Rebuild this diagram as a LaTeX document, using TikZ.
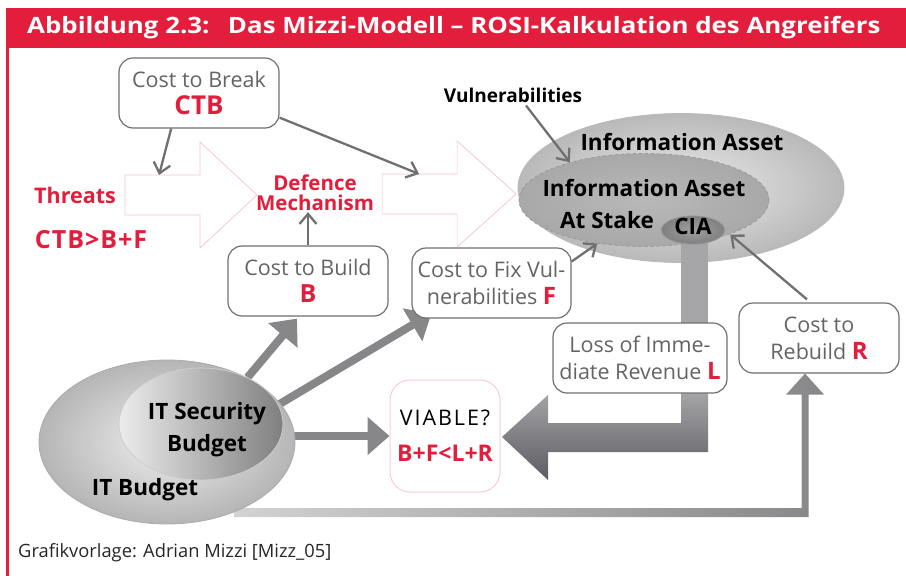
\documentclass[tikz,border=0pt]{standalone}
\usepackage{graphicx}
\usepackage{fontspec}
\setmainfont{Open Sans}
\usetikzlibrary{positioning,arrows.meta,calc,shapes.geometric}
\definecolor{mizred}{RGB}{226,30,60}
\definecolor{boxgrey}{RGB}{112,112,115}
\definecolor{txtgrey}{RGB}{100,100,103}
\definecolor{fatgrey}{RGB}{135,135,138}
\definecolor{pillarc}{RGB}{166,166,169}
\definecolor{darkarr}{RGB}{92,92,97}
\definecolor{pipec}{RGB}{246,196,206}
\pgfdeclarelayer{back}
\pgfsetlayers{back,main}
\newcommand{\fs}[2]{\fontsize{#1}{#2}\selectfont}
\newcommand{\rb}[1]{{\bfseries\color{mizred}#1}}

\begin{document}
\begin{tikzpicture}[
  x=1pt, y=-1pt,
  cost/.style={rectangle, rounded corners=14pt, draw=boxgrey, line width=1.2pt,
    fill=white, align=center, text=txtgrey, minimum width=#1,
    minimum height=70pt, inner sep=0pt, font=\fs{21.5}{27}},
  cost/.default=160pt,
  redlbl/.style={text=mizred, font=\bfseries\fs{21.5}{21}, align=center, inner sep=1pt},
  blklbl/.style={font=\bfseries\fs{22.5}{32}, align=center, inner sep=0pt},
  thinarr/.style={draw=boxgrey, line width=2.3pt, -{Straight Barb[length=10pt,width=17pt]}},
  fatarr/.style={draw=fatgrey, line width=8pt, -{Triangle[length=22pt,width=37pt]}},
  pipe/.style={draw=pipec, line width=0.7pt, fill=white},
  blob/.style={ellipse, inner sep=0pt, line width=0.8pt},
]
\useasboundingbox (0,0) rectangle (906,576);

% ---- frame and title ----
\fill[mizred] (6,8) rectangle (906,48);
\fill[mizred] (6,48) rectangle (9,576);
\node[anchor=west, text=white, font=\bfseries\fs{22.5}{22}, inner sep=0pt] (title) at (27,28)
  {\scalebox{1.15}[1]{Abbildung 2.3:\hspace{16pt}Das Mizzi-Modell -- ROSI-Kalkulation des Angreifers}};

% ---- left part: threats and defence ----
\node[cost] (ctb) at (199,93) {Cost to Break\\{\fs{26}{27}\rb{CTB}}};
\node[redlbl] (threats) at (75,195) {Threats};
\node[redlbl, font=\bfseries\fs{25}{25}\addfontfeature{LetterSpace=4}] (cond) at (91,240) {CTB>B+F};
\node[redlbl, font=\bfseries\fs{20.5}{20}] (defence) at (315,193) {Defence\\Mechanism};
\node[cost] (build) at (308,281) {Cost to Build\\{\fs{25}{29}\rb{B}}};
\node[cost=159pt] (fix) at (491.5,283) {Cost to Fix Vul-\\nerabilities {\fs{24}{27}\rb{F}}};
\node[font=\bfseries\fs{19}{19}, inner sep=1pt] (vul) at (513,95) {Vulnerabilities};

% ---- viable check ----
\node[rectangle, rounded corners=20pt, draw=mizred!22, line width=1pt, fill=white,
  minimum width=110pt, minimum height=112pt, align=center, inner sep=0pt,
  font=\fs{20}{36}] (viable) at (445,436)
  {{\fs{21.5}{36}\addfontfeature{LetterSpace=9}VIABLE?}\\{\fs{23}{36}\rb{B+F<L+R}}};
\node[cost] (rebuild) at (819,338) {Cost to\\Rebuild {\fs{24}{27}\rb{R}}};

% ---- information asset ----
\node[blob, draw=gray!55, inner color=gray!15, outer color=gray!55,
  minimum width=326pt, minimum height=149pt] (asset) at (681,188) {};
\node[blklbl] (assetlbl) at (682,142) {Information Asset};
\node[blob, draw=gray!80, dashed, inner color=gray!55, outer color=gray!68,
  minimum width=250pt, minimum height=93pt] (stake) at (644,200) {};
\node[blklbl] (stakelbl) at (644,188) {Information Asset};
\node[blklbl] (stakelbl2) at (607,220) {At Stake};

% loss of revenue: pillar from CIA, bent into the viable box
\coordinate (ciac) at (693,230);
\begin{scope}[shift={(ciac |- viable.east)}]
  \fill[pillarc] (-12,-200) rectangle (15,-44);
  \shade[top color=pillarc, bottom color=darkarr]
    (-12,-45) -- (15,-45) -- (15,16) -- (-145,16) -- (-145,44) -- (-191,1)
    -- (-145,-41) -- (-145,-13) -- (-12,-13) -- cycle;
\end{scope}
\node[blob, draw=gray!85, inner color=gray!75, outer color=gray!100,
  minimum width=63pt, minimum height=28pt] (cia) at (ciac) {};
\node[blklbl] (cialbl) at (693,226) {CIA};
\node[cost=174pt] (loss) at (640,358) {Loss of Imme-\\diate Revenue {\fs{24}{27}\rb{L}}};

% ---- budgets ----
\node[blob, draw=gray!65, inner color=gray!12, outer color=gray!58,
  minimum width=256pt, minimum height=164pt] (itbudget) at (167,442) {};
\node[blob, draw=gray!40, left color=gray!15, right color=gray!100,
  minimum width=164pt, minimum height=112pt] (itsec) at (201,424) {};
\node[blklbl] (itseclbl) at (207,430) {IT Security\\Budget};
\node[blklbl] (itbudgetlbl) at (145,490) {IT Budget};

% ---- block arrows ----
\draw[pipe] ($(threats.east)+(8,-20)$) -- ++(34,0) coordinate (hit1) -- ++(41,0)
  -- ++(0,-33) -- ++(57,53) -- ++(-57,53) -- ++(0,-33) -- ++(-75,0) -- cycle;
\draw[pipe] ($(defence.east)+(7,-19)$) -- ++(37,0) coordinate (hit2) -- ++(38,0)
  -- ++(0,-33) -- ++(59,53) -- ++(-59,53) -- ++(0,-33) -- ++(-75,0) -- cycle;

% ---- thin arrows ----
\draw[thinarr] (ctb.-128) -- (hit1);
\draw[thinarr] (ctb.-17) -- (hit2);
\draw[thinarr] (build.north) -- (build.north |- defence.south);
\draw[thinarr] ($(vul.south)+(13,2)$) -- (stake.153);
\draw[thinarr] (fix.15) -- (stake.-137);
\draw[thinarr, shorten >=7pt] ($(rebuild.north)+(-12,-3)$) -- (cia.east);

% ---- budget flows ----
\begin{pgfonlayer}{back}
\draw[fatarr] (itsec.45) -- ($(build.south)+(-11,2)$);
\draw[fatarr] (itsec.14) -- ($(fix.south west)+(20,-5)$);
\draw[fatarr] (itsec.east |- viable.west) -- (viable.west);
\coordinate (rbin) at ($(rebuild.south)+(-14,0)$);
\coordinate (bl) at (itbudget.-46);
\shade[left color=gray!35, right color=fatgrey]
  ($(bl)+(0,-4)$) -- ($(rbin |- bl)+(-3.5,-4)$) -- ($(rbin)+(-3.5,21)$)
  -- ($(rbin)+(-19,21)$) -- (rbin) -- ($(rbin)+(19,21)$) -- ($(rbin)+(3.5,21)$)
  -- ($(rbin |- bl)+(3.5,5)$) -- ($(bl)+(0,5)$) -- cycle;
\end{pgfonlayer}

% ---- source ----
\node[anchor=west, font=\fs{18.3}{18}, text=black!85, inner sep=0pt] (src) at (18,553)
  {Grafikvorlage: Adrian Mizzi [Mizz\_05]};
\end{tikzpicture}
\end{document}
